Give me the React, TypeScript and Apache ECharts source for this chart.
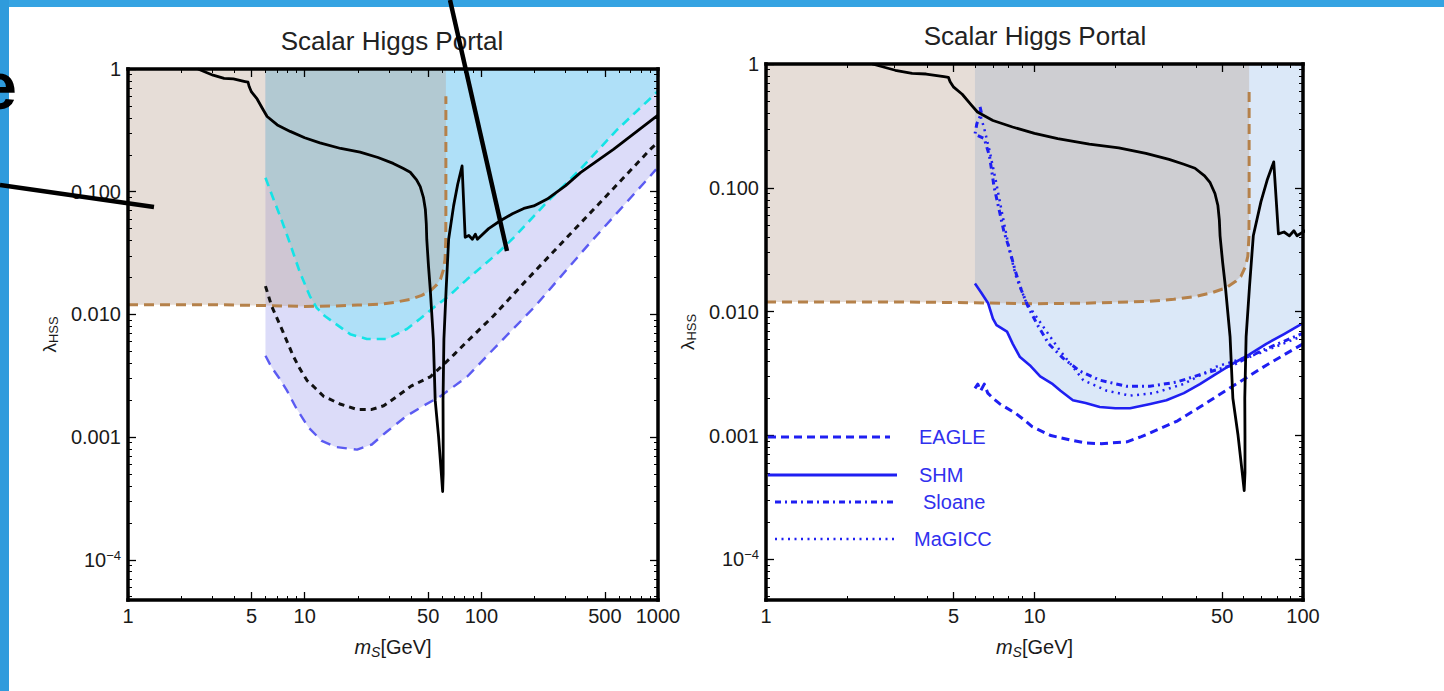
import React, { useEffect, useRef } from 'react';
import * as echarts from 'echarts';

const FONT = "'Liberation Sans', Arial, Helvetica, sans-serif";
const TITLE = 'Scalar Higgs Portal';

// ---- tick values ----
const xMajorLeft = [1, 5, 10, 50, 100, 500, 1000];
const xMinorLeft = [2, 3, 4, 6, 7, 8, 9, 20, 30, 40, 60, 70, 80, 90, 200, 300, 400, 600, 700, 800, 900];
const xMajorRight = [1, 5, 10, 50, 100];
const xMinorRight = [2, 3, 4, 6, 7, 8, 9, 20, 30, 40, 60, 70, 80, 90];
const yMajor = [0.0001, 0.001, 0.01, 0.1, 1];
const yMinor = [
  0.00005, 0.00006, 0.00007, 0.00008, 0.00009,
  0.0002, 0.0003, 0.0004, 0.0005, 0.0006, 0.0007, 0.0008, 0.0009,
  0.002, 0.003, 0.004, 0.005, 0.006, 0.007, 0.008, 0.009,
  0.02, 0.03, 0.04, 0.05, 0.06, 0.07, 0.08, 0.09,
  0.2, 0.3, 0.4, 0.5, 0.6, 0.7, 0.8, 0.9,
];
const Y_MIN = 0.000047;
const Y_MAX = 1;

// ---- curves (m_S [GeV], lambda_HSS) ----
const blackSolid: [number, number][] = [
  [2.49, 1.0], [3.03, 0.89], [3.5, 0.84], [3.95, 0.83], [4.6, 0.79], [4.78, 0.78], [4.85, 0.72], [5.0, 0.65],
  [5.38, 0.57], [5.8, 0.47], [6.13, 0.41], [7.0, 0.35], [8.28, 0.31], [10, 0.275], [12.2, 0.25], [16, 0.225],
  [20.6, 0.21], [26, 0.19], [31.7, 0.17], [36, 0.155], [39.6, 0.144], [43, 0.125], [45.1, 0.11], [47, 0.09],
  [48.2, 0.072], [48.8, 0.055], [49.1, 0.041], [50.2, 0.025], [51.4, 0.0159], [53.5, 0.0063], [54.8, 0.002],
  [57.3, 0.001], [59.4, 0.0005], [60.4, 0.00036], [60.8, 0.0005], [60.8, 0.001], [60.7, 0.002], [61.4, 0.0063],
  [63.2, 0.0159], [65.3, 0.041], [69.7, 0.077], [73.5, 0.115], [77.8, 0.162], [81, 0.0425], [85, 0.044],
  [89, 0.041], [92.5, 0.045], [95, 0.041], [110, 0.05], [128, 0.058], [150, 0.066], [174, 0.073], [198, 0.0765],
  [236, 0.087], [300, 0.112], [364, 0.143], [562, 0.222], [1000, 0.42],
];
const brownBound: [number, number][] = [
  [1, 0.012], [3, 0.012], [6, 0.0118], [10, 0.0116], [15, 0.0117], [20, 0.0119], [26.6, 0.0121], [33, 0.0126],
  [40, 0.0133], [46, 0.0143], [51.4, 0.0155], [56, 0.0175], [58.7, 0.0193], [61, 0.023], [62.3, 0.028],
  [62.9, 0.04], [63, 0.07], [63, 0.6],
];
const cyanBound: [number, number][] = [
  [6, 0.13], [6.6, 0.09], [7.3, 0.062], [8.1, 0.041], [9.4, 0.022], [10.7, 0.0141], [11.7, 0.0113], [13, 0.0097],
  [14.6, 0.0086], [18.1, 0.0069], [22.5, 0.0063], [29.2, 0.0063], [37.9, 0.0076], [45, 0.0092], [53.8, 0.0114],
  [65, 0.014], [83, 0.0193], [122, 0.031], [152, 0.042], [235, 0.082], [364, 0.153], [587, 0.32], [1000, 0.66],
];
const blackDashed: [number, number][] = [
  [6, 0.017], [6.5, 0.0117], [7.0, 0.0092], [7.57, 0.0071], [8.6, 0.0046], [9.4, 0.0036], [10.3, 0.0029],
  [11.5, 0.0025], [12.8, 0.00215], [16, 0.00185], [19.8, 0.00168], [24, 0.00168], [28, 0.0018], [31.9, 0.00205],
  [40, 0.0026], [51.4, 0.0031], [58.7, 0.0037], [70, 0.0047], [83, 0.006], [117, 0.0097], [180, 0.019],
  [279, 0.037], [472, 0.082], [907, 0.222], [975, 0.245],
];
const blueDashed: [number, number][] = [
  [6, 0.0046], [6.5, 0.0037], [7.2, 0.003], [7.93, 0.0024], [9, 0.0017], [10.5, 0.0012], [12.5, 0.00093],
  [15, 0.00083], [19.8, 0.00079], [24, 0.00087], [29, 0.0011], [37.6, 0.00148], [47, 0.0018], [58.7, 0.00215],
  [83, 0.0031], [117, 0.0052], [200, 0.0115], [397, 0.036], [907, 0.135], [975, 0.152],
];
const eagle: [number, number][] = [
  [6.0, 0.0024], [6.15, 0.0026], [6.3, 0.0023], [6.5, 0.0026], [6.7, 0.0022], [7.0, 0.002], [7.43, 0.0018],
  [8.55, 0.0015], [9.3, 0.0013], [9.8, 0.00118], [11.5, 0.001], [13.6, 0.00092], [15.5, 0.00087], [17.7, 0.00086],
  [22.1, 0.00089], [25, 0.00098], [28.3, 0.0011], [33.8, 0.0013], [41.3, 0.0017], [54.7, 0.0025], [73, 0.0037],
  [100, 0.0055],
];
const shm: [number, number][] = [
  [6.0, 0.0169], [6.3, 0.0145], [6.72, 0.0117], [7.0, 0.0088], [7.22, 0.0078], [7.9, 0.0069], [8.3, 0.0055],
  [8.83, 0.0043], [9.6, 0.0037], [10.5, 0.003], [11.7, 0.0026], [12.5, 0.0023], [13.9, 0.00193], [15.5, 0.00183],
  [17.5, 0.0017], [20, 0.00166], [22.7, 0.00166], [27, 0.0018], [31, 0.00193], [36, 0.0022], [41.3, 0.0026],
  [47, 0.0031], [54.7, 0.0038], [63, 0.0045], [73, 0.0055], [85, 0.0066], [100, 0.0081],
];
const sloane: [number, number][] = [
  [6.27, 0.45], [6.35, 0.4], [6.1, 0.33], [6.0, 0.27], [6.5, 0.25], [6.8, 0.18], [7.07, 0.102], [7.4, 0.065],
  [7.68, 0.045], [8.1, 0.031], [8.46, 0.0217], [8.94, 0.0149], [9.46, 0.011], [10.2, 0.008], [11.3, 0.0055],
  [12.8, 0.0042], [14.8, 0.0033], [17.5, 0.0028], [22, 0.0025], [26.9, 0.0025], [33.8, 0.0027], [41.3, 0.0031],
  [54.7, 0.0037], [71, 0.0049], [100, 0.0067],
];
const magicc: [number, number][] = [
  [6.2, 0.42], [6.3, 0.38], [6.5, 0.3], [6.8, 0.2], [7.2, 0.11], [7.6, 0.06], [8.1, 0.03], [8.55, 0.019],
  [9.3, 0.012], [11, 0.0071], [12.4, 0.0049], [15.2, 0.0028], [18.6, 0.0023], [22.7, 0.0021], [27.8, 0.0022],
  [35.8, 0.0026], [47.6, 0.0036], [68.5, 0.0046], [100, 0.0064],
];

const legendNames = ['EAGLE', 'SHM', 'Sloane', 'MaGICC'];

function yFmt(v: number): string {
  if (v > 0.5) return '1';
  if (v < 0.0005) return '{b|10}{s|\u22124}';
  return v.toFixed(3);
}
function xFmt(v: number): string {
  return String(Math.round(v));
}

function axisSet(kind: 'x' | 'y', grid: number, min: number, max: number, majors: number[], minors: number[],
  name: string, nameGap: number) {
  const pos = kind === 'x' ? ['bottom', 'top'] : ['left', 'right'];
  const base: any = { type: 'log', logBase: 10, gridIndex: grid, min, max, splitLine: { show: false }, z: 10, silent: true };
  const line = { show: true, onZero: false, lineStyle: { color: '#000', width: 3.5, cap: 'square' } };
  const majorTick = { show: true, inside: true, length: 8, customValues: majors, lineStyle: { color: '#000', width: 1.3 } };
  const minorTick = { show: true, inside: true, length: 4, customValues: minors, lineStyle: { color: '#000', width: 1 } };
  const main = {
    ...base, position: pos[0], axisLine: line, axisTick: majorTick,
    axisLabel: {
      show: true, customValues: majors, margin: kind === 'x' ? 6 : 7, fontSize: 20, color: '#1a1a1a', fontFamily: FONT,
      formatter: kind === 'x' ? xFmt : yFmt,
      rich: {
        b: { fontSize: 20, fontFamily: FONT, color: '#1a1a1a', lineHeight: 22 },
        s: { fontSize: 13, fontFamily: FONT, color: '#1a1a1a', lineHeight: 13, verticalAlign: 'top' },
      },
    },
    name, nameLocation: 'middle', nameGap, nameRotate: kind === 'y' ? 90 : 0,
    nameTextStyle: {
      color: '#1a1a1a', fontFamily: FONT,
      rich: kind === 'x'
        ? {
          i: { fontSize: 20, fontStyle: 'italic', fontFamily: FONT, color: '#1a1a1a', lineHeight: 24 },
          s: { fontSize: 14, fontStyle: 'italic', fontFamily: FONT, color: '#1a1a1a', lineHeight: 14, verticalAlign: 'bottom' },
          n: { fontSize: 20, fontFamily: FONT, color: '#1a1a1a', lineHeight: 24 },
        }
        : {
          l: { fontSize: 19, fontFamily: FONT, color: '#1a1a1a', lineHeight: 22 },
          s: { fontSize: 13, fontFamily: FONT, color: '#1a1a1a', lineHeight: 13, verticalAlign: 'bottom' },
        },
    },
  };
  const opp = { ...base, position: pos[1], axisLine: line, axisTick: majorTick, axisLabel: { show: false } };
  const minMain = { ...base, position: pos[0], axisLine: { show: false, onZero: false }, axisTick: minorTick, axisLabel: { show: false } };
  const minOpp = { ...base, position: pos[1], axisLine: { show: false, onZero: false }, axisTick: minorTick, axisLabel: { show: false } };
  return [main, opp, minMain, minOpp];
}

function lineS(name: string, data: [number, number][], ai: number, color: string, width: number, type: any, z = 3) {
  return {
    type: 'line', name, data, xAxisIndex: ai, yAxisIndex: ai, symbol: 'none', showSymbol: false, silent: true,
    lineStyle: { color, width, type, cap: 'butt', join: 'round' }, z, clip: true,
  };
}
function fillS(name: string, data: [number, number][], ai: number, color: string, z = 1) {
  return {
    type: 'line', name, data, xAxisIndex: ai, yAxisIndex: ai, symbol: 'none', showSymbol: false, silent: true,
    lineStyle: { width: 0, opacity: 0 }, areaStyle: { color, opacity: 1, origin: 'end' }, z, clip: true,
  };
}

const BEIGE = 'rgba(184,158,140,0.35)';
const BLUE = '#1f1ff2';

export default function App() {
  const ref = useRef<HTMLDivElement>(null);
  useEffect(() => {
    if (!ref.current) return;
    const chart = echarts.init(ref.current, undefined, { renderer: 'svg' });
    const xName = '{i|m}{s|S}{n|[GeV]}';
    const yName = '{l|\u03bb}{s|HSS}';
    const legendY = [437, 475, 502, 539];
    const legendDash: any[] = [[8, 5], null, [6, 4, 2, 4], [2, 4.5]];
    const legendX0 = [768, 768, 775, 775];
    const legendX1 = [890, 897, 897, 897];
    const legendTX = [919, 919, 923, 914];
    const graphics: any[] = [
      { type: 'rect', shape: { x: 0, y: 0, width: 1444, height: 7 }, style: { fill: '#35a3e2' }, z: 50 },
      { type: 'rect', shape: { x: 0, y: 0, width: 9, height: 691 }, style: { fill: '#2f9bdc' }, z: 50 },
      {
        type: 'text', x: 17, y: 86, z: 60,
        style: { text: 'e', fontSize: 66, fontWeight: 'bold', fontFamily: FONT, fill: '#000', align: 'right', verticalAlign: 'middle', textAlign: 'right', textVerticalAlign: 'middle' },
      },
      { type: 'line', shape: { x1: 0, y1: 185, x2: 154, y2: 207 }, style: { stroke: '#000', lineWidth: 4.5 }, z: 60 },
      { type: 'line', shape: { x1: 450, y1: 0, x2: 507, y2: 251 }, style: { stroke: '#000', lineWidth: 4.5 }, z: 60 },
    ];
    legendNames.forEach((n, i) => {
      graphics.push({
        type: 'line', shape: { x1: legendX0[i], y1: legendY[i], x2: legendX1[i], y2: legendY[i] },
        style: { stroke: BLUE, lineWidth: i === 3 ? 2.5 : 3, lineDash: legendDash[i] || undefined }, z: 30,
      });
      graphics.push({
        type: 'text', x: legendTX[i], y: legendY[i], z: 30,
        style: { text: n, fontSize: 20, fontFamily: FONT, fill: '#3030ee', align: 'left', verticalAlign: 'middle', textAlign: 'left', textVerticalAlign: 'middle' },
      });
    });

    const xAxes = [
      ...axisSet('x', 0, 1, 1000, xMajorLeft, xMinorLeft, xName, 35),
      ...axisSet('x', 1, 1, 100, xMajorRight, xMinorRight, xName, 35),
    ];
    const yAxes = [
      ...axisSet('y', 0, Y_MIN, Y_MAX, yMajor, yMinor, yName, 68),
      ...axisSet('y', 1, Y_MIN, Y_MAX, yMajor, yMinor, yName, 68),
    ];

    const option: any = {
      animation: false,
      backgroundColor: '#ffffff',
      title: [
        { text: TITLE, left: 392, top: 28, textAlign: 'center', padding: 0, textStyle: { fontSize: 26, fontWeight: 'normal', color: '#222', fontFamily: FONT } },
        { text: TITLE, left: 1035, top: 23, textAlign: 'center', padding: 0, textStyle: { fontSize: 26, fontWeight: 'normal', color: '#222', fontFamily: FONT } },
      ],
      grid: [
        { left: 128, top: 69, width: 530, height: 531, containLabel: false },
        { left: 766, top: 64, width: 537, height: 536, containLabel: false },
      ],
      xAxis: xAxes,
      yAxis: yAxes,
      series: [
        // left panel fills
        fillS('blueRegion', blueDashed, 0, '#dcdcf9', 1),
        fillS('cyanRegion', cyanBound, 0, '#afe0f8', 1),
        fillS('brownRegion', brownBound, 0, BEIGE, 1),
        // left panel lines
        lineS('brown', brownBound, 0, '#b5814a', 3, [10, 6]),
        lineS('cyan', cyanBound, 0, '#14e3e6', 2.6, [9, 6]),
        lineS('blackDashed', blackDashed, 0, '#111', 3, [6, 5]),
        lineS('blueDashed', blueDashed, 0, '#5b5bf2', 2.4, [10, 7]),
        lineS('blackSolid', blackSolid, 0, '#000', 2.8, 'solid', 4),
        // right panel fills
        fillS('shmRegion', shm, 4, '#dbe8f8', 1),
        fillS('brownRegionR', brownBound, 4, BEIGE, 1),
        // right panel lines
        lineS('brownR', brownBound, 4, '#b5814a', 3, [10, 6]),
        lineS('EAGLE', eagle, 4, BLUE, 3, [8, 5]),
        lineS('SHM', shm, 4, BLUE, 2.6, 'solid'),
        lineS('Sloane', sloane, 4, BLUE, 3, [6, 4, 2, 4]),
        lineS('MaGICC', magicc, 4, BLUE, 2.5, [2, 4.5]),
        lineS('blackSolidR', blackSolid, 4, '#000', 2.8, 'solid', 4),
      ],
      graphic: { elements: graphics },
    };
    chart.setOption(option);
    return () => chart.dispose();
  }, []);
  return <div ref={ref} style={{ position: 'fixed', left: 0, top: 0, width: 1444, height: 691, background: '#fff' }} />;
}
